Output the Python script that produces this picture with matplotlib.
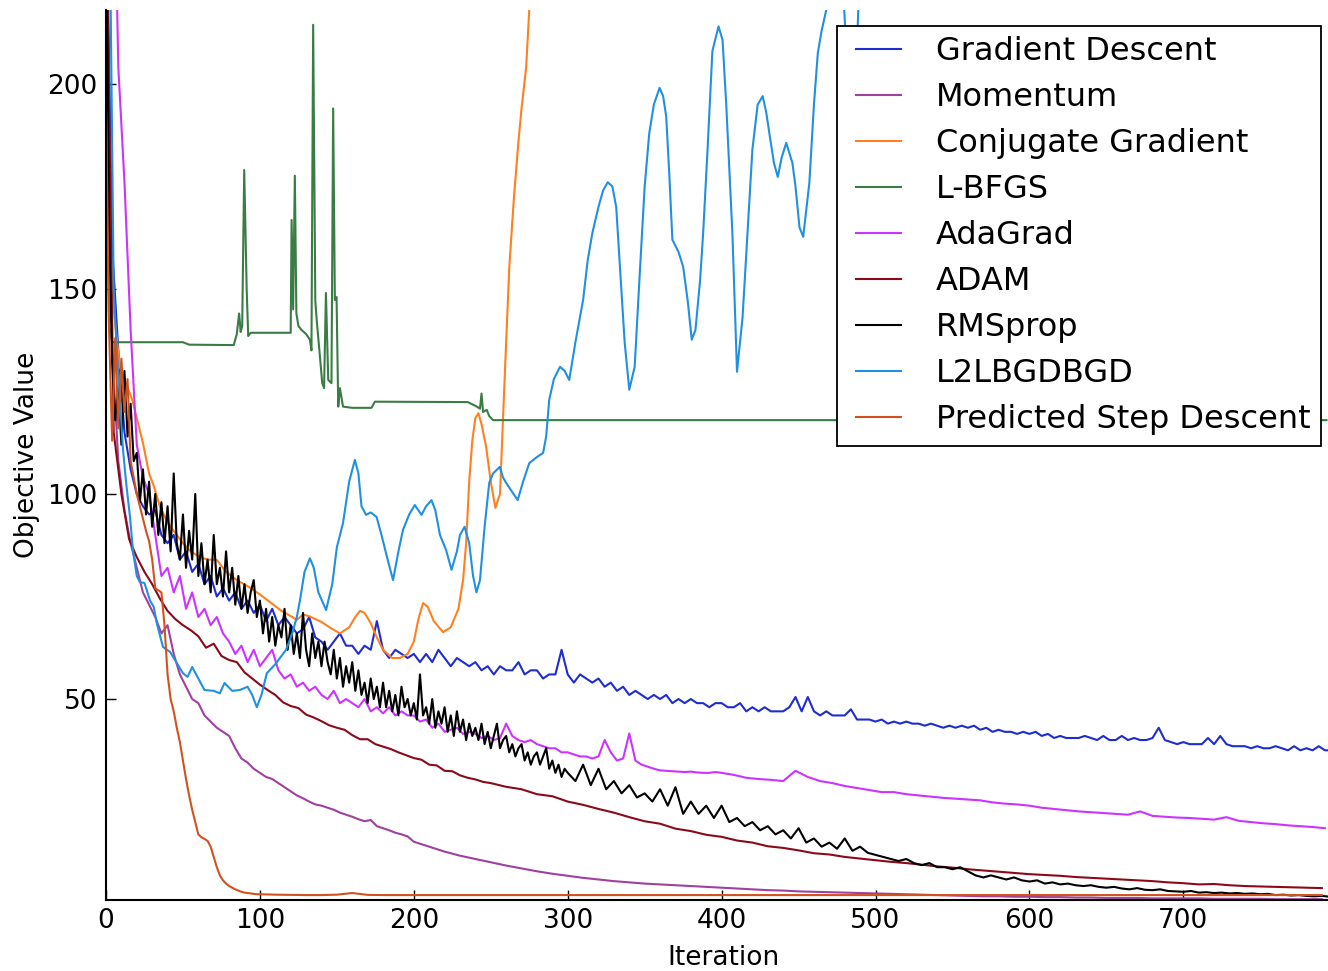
import numpy as np
import matplotlib
matplotlib.use("Agg")
import matplotlib.pyplot as plt

# ---------------- data ----------------
labels = ["Gradient Descent", "Momentum", "Conjugate Gradient", "L-BFGS",
          "AdaGrad", "ADAM", "RMSprop", "L2LBGDBGD", "Predicted Step Descent"]
colors = ["#1f2dd0", "#a040a0", "#ff8020", "#3a7d44", "#cc33ff",
          "#8b0a1a", "#000000", "#2090e0", "#d2521e"]

# Gradient Descent: every 4 iterations
gd_step = 4
gd_vals = [
    250, 160, 135, 115, 106, 100, 97, 95, 96, 90,
    88, 90, 84, 86, 81, 83, 78, 80, 75, 77,
    74, 76, 72, 74, 71, 73, 69, 72, 68, 70,
    68, 66, 67, 70, 65, 64, 62, 64, 66, 63,
    63, 61, 63, 62, 69, 62, 60, 62, 61, 60,
    61, 59, 61, 59, 62, 60, 58, 60, 59, 58,
    59, 57, 58, 56, 58, 57, 57, 59, 56, 57,
    57, 55, 56, 56, 62, 56, 54, 56, 55, 54,
    55, 53, 54, 52, 53, 51, 52, 51, 50, 51,
    50, 51, 49, 50, 49, 50, 49, 49, 48, 49,
    49, 48, 48, 49, 47, 48, 47, 48, 47, 47,
    47, 48, 50.5, 47, 50.5, 47, 46, 47, 46, 46,
    46, 47.5, 45, 45, 45, 44.5, 45, 44, 44.5, 44,
    44.5, 44, 44, 43.5, 44, 43.5, 43, 43.5, 43, 43.5,
    43, 43.5, 42.5, 43, 42, 42.5, 42, 42, 41.5, 42,
    41.5, 42, 41, 41.5, 40.5, 41, 40.5, 40.5, 40.5, 41,
    40.5, 40, 41, 40, 40, 41, 40, 40.5, 40, 40,
    40.5, 43, 40, 39.5, 39, 39.5, 39, 39, 39, 40.5,
    39, 41, 39, 38.5, 38.5, 38.5, 38, 38.5, 38, 38,
    38.5, 38, 37.5, 38.5, 37.5, 38, 37.5, 38.5, 37.5, 37.5,
]

# Momentum: every 4 iterations up to 196, then every 10
mom_step_a = 4
mom_vals_a = [
    250, 135, 108, 96, 88, 82, 76, 73, 70, 66,
    68, 61, 56, 53, 50, 49, 46, 44.5, 43, 42,
    41, 38, 35.5, 34.5, 33, 32, 31, 30.5, 29.5, 28.5,
    27.5, 26.5, 25.8, 25, 24.3, 24, 23.5, 23, 22.3, 21.8,
    21.3, 20.7, 20.2, 20.5, 19, 18.5, 18, 17.4, 17, 16.5,
]
mom_start_b = 200
mom_step_b = 10
mom_vals_b = [
    15.2, 14, 12.8, 11.8, 11, 10.2, 9.4, 8.7, 8, 7.4,
    6.9, 6.4, 6, 5.6, 5.3, 5, 4.8, 4.6, 4.4, 4.2,
    4.0, 3.8, 3.6, 3.4, 3.3, 3.1, 3.0, 2.9, 2.8, 2.7,
    2.6, 2.5, 2.4, 2.3, 2.2, 2.1, 2.0, 1.9, 1.9, 1.8,
    1.8, 1.7, 1.7, 1.6, 1.6, 1.5, 1.5, 1.5, 1.4, 1.4,
    1.4, 1.4, 1.3, 1.3, 1.3, 1.3, 1.2, 1.2, 1.2, 1.2,
]

# Conjugate Gradient
cg_iter = [0, 1, 2, 5, 9, 13, 17, 21, 24, 28, 31, 35, 40, 45, 50, 55, 61, 66,
           72, 78, 85, 93, 100, 107, 114, 121, 124, 128, 132, 140, 146, 152,
           158, 162, 165, 168, 172, 176, 180, 186, 191, 196, 200, 203, 206,
           209, 213, 219, 224, 229, 232, 234, 236, 238, 240, 242, 244, 247,
           250, 253, 256, 259, 262, 265, 268, 270, 273, 276, 280, 290]
cg_vals = [205, 188, 170, 145, 131, 127, 123, 117, 112.4, 105, 102, 97, 93,
           90.5, 88, 86, 84.6, 84, 83.9, 81, 79, 77.3, 75.5, 73.5, 71.5, 70,
           69.3, 70.6, 70.2, 68.8, 67.3, 66, 67.5, 70, 71.5, 71, 68.5, 65, 62,
           60, 60, 61, 64, 69.5, 73.4, 72.5, 69, 66.3, 67.5, 72, 79, 88, 103,
           113, 118.5, 119.7, 117, 111.5, 103, 96.6, 100, 128, 155, 172,
           186, 194, 204, 225, 245, 290]

# L-BFGS
lb_iter = [0, 2, 4, 50, 54, 83, 85, 86.5, 87.5, 88.5, 89.8, 91.4, 92.4, 94,
           120, 120.6, 121.6, 122.7, 123.7, 125, 127, 130, 132.5, 133.5,
           134.6, 136, 137, 139, 140.5, 141.7, 142.9, 144.4, 146.5, 147.6,
           148.7, 149.8, 150.9, 152, 154, 160, 172.5, 174.7, 235, 240, 243,
           244, 245, 247.4, 249, 251.5, 793]
lb_vals = [190, 141, 137, 137, 136.4, 136.3, 139, 144, 139.5, 141, 179, 150,
           138.5, 139.3, 139.3, 166.8, 145, 177.6, 144, 141, 140, 139, 137.6,
           135, 214.4, 147, 142, 133.5, 127, 125.8, 149, 127.8, 127, 194,
           147.3, 148, 121.3, 125.8, 121.3, 121, 121, 122.5, 122.4, 121.5,
           120.8, 124.5, 120, 120.5, 119, 118, 118]

# AdaGrad: every 4 iterations up to 396, then every 8
ada_step_a = 4
ada_vals_a = [
    400, 280, 204, 176, 140, 112, 104, 100, 90, 80,
    82, 76, 80, 72, 76, 70, 72, 68, 70, 66,
    64, 61, 63, 59, 62, 58, 60, 62, 57, 55,
    56, 53, 54, 52, 53, 51, 50, 52, 49, 50,
    49, 48, 50, 47, 48, 46.5, 48, 46, 47, 46,
    46, 44.5, 45, 43, 44, 42, 42.5, 43, 41.5, 42,
    41.5, 40.5, 41, 40, 40.5, 44, 41, 40, 39.5, 40,
    39, 38.5, 38, 38, 37, 37, 36.5, 36, 36, 35.5,
    36, 40, 37, 35, 35.5, 41.6, 35, 34, 33.5, 33,
    32.6, 32.5, 32.4, 32.3, 32.2, 32.3, 32.1, 32.0, 32.0, 32.2,
]
ada_start_b = 400
ada_step_b = 8
ada_vals_b = [
    32, 31.5, 30.8, 30.5, 30.3, 30, 32.5, 31, 30, 29.5,
    28.8, 28.3, 27.8, 27.3, 27.3, 26.8, 26.5, 26.2, 25.9, 25.7,
    25.5, 25.3, 24.8, 24.5, 24.3, 24.0, 23.5, 23.2, 22.9, 22.6,
    22.4, 22.2, 22, 21.8, 22.6, 21.5, 21.3, 21.1, 21, 20.8,
    20.6, 21.2, 20.3, 20.0, 19.7, 19.5, 19.2, 19.0, 18.8, 18.5,
]

# ADAM: every 5 iterations up to 245, then every 10
adam_step_a = 5
adam_vals_a = [
    250, 115, 100, 89, 84.6, 81, 78, 74.5, 71.5, 69.5,
    68, 66.8, 65.3, 62.5, 63.5, 60.5, 59.5, 59, 56.5, 55,
    53.5, 52.2, 51, 49.2, 48.3, 47.8, 46.2, 45.5, 44.6, 43.6,
    43, 42.5, 41.2, 40.2, 40.2, 39, 38.4, 37.8, 37, 36.3,
    35.6, 35.2, 34, 33.8, 32.5, 32.4, 31.4, 30.8, 30.4, 29.8,
]
adam_start_b = 250
adam_step_b = 10
adam_vals_b = [
    29.5, 28.6, 28, 26.8, 26.3, 25, 24.2, 23.2, 22.3, 21.2,
    20.2, 19.6, 18.4, 17.8, 16.9, 16.4, 15.5, 15.0, 14.1, 13.7,
    13.1, 12.4, 12.1, 11.5, 11.1, 10.7, 10.3, 10.0, 9.6, 9.2,
    8.9, 8.5, 8.2, 7.9, 7.6, 7.3, 7.1, 6.9, 6.6, 6.4,
    6.2, 6.0, 5.8, 5.6, 5.3, 5.1, 4.8, 4.9, 4.6, 4.4,
    4.3, 4.2, 4.1, 4.0, 3.9,
]

# RMSprop: every 2 iterations up to 298, then every 5
rms_step_a = 2
rms_vals_a = [
    250, 165, 132, 118, 126, 112, 130, 114, 122, 108,
    110, 98, 106, 95, 103, 92, 100, 90, 98, 88,
    97, 86, 105, 88, 84, 95, 82, 91, 84, 100,
    80, 88, 78, 84, 76, 90, 78, 82, 75, 86,
    76, 82, 73, 80, 72, 78, 71, 76, 79, 70,
    74, 66, 72, 64, 70, 63, 68, 65, 72, 62,
    68, 61, 66, 60, 71, 62, 58, 66, 60, 64,
    58, 64, 59, 56, 62, 55, 60, 53, 58, 54,
    59, 52, 57, 51, 54, 49, 55, 50, 53, 48,
    54, 48, 52, 47, 51, 46, 53, 48, 50, 46,
    49, 45, 56, 46, 48, 44, 50, 43, 47, 44,
    48, 42, 46, 41, 47, 42, 45, 40, 44, 41,
    43, 40, 44, 39, 42, 38, 41, 44, 38, 40,
    41, 37, 39, 36, 38, 39, 35, 37, 34, 36,
    37, 34, 36, 38, 33, 35, 32, 34, 31, 33,
]
rms_start_b = 300
rms_step_b = 5
rms_vals_b = [
    32, 30, 34, 29, 33, 28, 30, 27, 29, 26,
    27, 25, 28, 24, 28.5, 22, 25, 22, 24, 21,
    24, 20, 21, 19, 20, 18, 19, 17, 18, 16,
    18.5, 15, 16, 14, 15, 13.5, 16, 13, 14, 12.5,
    12, 11.5, 11, 10.5, 11, 10, 9.5, 10, 9, 9,
    8.5, 9, 8, 7, 6.5, 7, 6.5, 6, 6.5, 5.8,
    5.5, 5.8, 5, 5.3, 4.8, 5, 4.6, 4.4, 4.6, 4.2,
    4, 4.2, 3.8, 3.6, 3.9, 3.5, 3.4, 3.6, 3.2, 3.1,
    3, 3.2, 2.8, 2.9, 2.7, 2.8, 2.6, 2.7, 2.5, 2.6,
    2.4, 2.5, 2.2, 2.3, 2.1, 2.2, 2.0, 1.9, 2.0, 1.8,
]

# L2LBGDBGD
l2l_iter = [0, 3, 4, 5, 7, 9, 11, 13, 15.6, 17.5, 20, 22, 25, 28.6, 31, 33,
            37, 41.6, 46, 50, 53, 56, 60, 64, 70, 74, 77, 82, 87, 92, 95, 98,
            101, 104.5, 110, 117, 121, 124, 126, 129, 132.5, 135, 138, 143,
            147, 150, 154, 158, 161.7, 164, 166, 169, 172, 175.8, 179, 183,
            186.5, 190, 193, 197, 200.6, 203, 205, 208, 211.5, 214, 217, 221,
            224.5, 228, 230, 233, 236, 238.5, 240.7, 243, 246, 249, 251.5,
            255.8, 258, 260, 263, 267.5, 271, 275, 280, 284, 286, 288, 291,
            295, 298, 301, 305, 310, 313, 316, 320, 323, 326, 329, 331.5, 334,
            337, 340, 343.5, 347, 350, 353, 356, 359.7, 362, 364, 366, 368,
            372, 375, 378, 380.6, 383, 386, 388, 391, 394, 398, 400.6, 403,
            407, 410, 413.6, 417, 420, 423.4, 426.7, 429, 431, 434, 436.5, 439,
            442, 446, 448, 450.6, 453, 457, 460, 462.5, 465, 468, 472, 476,
            478, 481.5, 484, 486, 488.5, 491, 500, 793]
l2l_vals = [300, 220, 185, 150, 135, 123, 111, 103, 94.4, 86.3, 80, 78.5,
            78.3, 74, 72.5, 68.5, 62.7, 61.5, 58.8, 56.3, 55.4, 57.8, 55,
            52.2, 52, 51.4, 53.9, 52, 52.2, 53, 51, 48, 51, 56.3, 58.5, 62,
            66, 70, 74, 81, 84.3, 82, 76, 71.7, 78, 87, 92.9, 103, 108.3, 105,
            97, 94.9, 95.5, 94.4, 90, 84, 79, 86, 91.3, 95, 97.3, 96, 94.9,
            97, 98.5, 96, 90, 86.3, 81.5, 86, 90, 92, 88, 80, 76, 79, 92,
            102.7, 105, 106.6, 104, 102.7, 101, 98.5, 103, 107.5, 109, 110,
            114, 123, 128, 131, 130, 127.8, 137, 147.3, 157, 163.6, 170, 174,
            176, 175, 170, 155, 137, 125.4, 131, 155, 175, 188, 195, 199, 197,
            192, 178, 162, 159, 155.4, 147, 137.6, 140, 152, 163.6, 185, 208,
            214, 210.7, 195, 163.6, 129.8, 143, 165, 184, 194.9, 197, 193, 188,
            180.7, 177.3, 182, 185.6, 180.7, 175, 165, 162.7, 175.8, 195,
            207.5, 213, 218, 235, 240, 230, 205, 175, 190, 215, 240, 260, 260]

# Predicted Step Descent: every 2 iterations up to 98, then every 10
psd_step_a = 2
psd_vals_a = [
    195, 140, 113, 138, 116, 133, 120, 128, 108, 104,
    100, 97, 94, 91, 88.5, 84, 77, 76.5, 76, 68,
    56, 50, 47, 43, 39.5, 35, 30.5, 26.5, 23, 20,
    17, 16.3, 15.9, 15.4, 14, 11.5, 9, 7, 5.8, 5,
    4.4, 4.0, 3.6, 3.3, 3.0, 2.8, 2.7, 2.6, 2.5, 2.4,
]
psd_start_b = 100
psd_step_b = 10
psd_vals_b = [
    2.4, 2.3, 2.25, 2.2, 2.2, 2.3, 2.7, 2.25, 2.2, 2.2,
    2.2, 2.2, 2.2, 2.2, 2.2, 2.2, 2.2, 2.2, 2.2, 2.2,
    2.2, 2.2, 2.2, 2.2, 2.2, 2.2, 2.2, 2.2, 2.2, 2.2,
    2.2, 2.2, 2.2, 2.2, 2.2, 2.2, 2.2, 2.2, 2.2, 2.2,
    2.2, 2.2, 2.2, 2.2, 2.2, 2.2, 2.2, 2.2, 2.2, 2.2,
    2.2, 2.2, 2.2, 2.2, 2.2, 2.2, 2.2, 2.2, 2.2, 2.2,
    2.2, 2.2, 2.2, 2.2, 2.2, 2.2, 2.2, 2.2, 2.2, 2.2,
]

x_ticks = [0, 100, 200, 300, 400, 500, 600, 700]
y_ticks = [50, 100, 150, 200]


def grid(n, step, start=0):
    return start + np.arange(n) * step


series = [
    (grid(len(gd_vals), gd_step), gd_vals),
    (np.concatenate([grid(len(mom_vals_a), mom_step_a),
                     grid(len(mom_vals_b), mom_step_b, mom_start_b)]),
     mom_vals_a + mom_vals_b),
    (np.array(cg_iter), cg_vals),
    (np.array(lb_iter), lb_vals),
    (np.concatenate([grid(len(ada_vals_a), ada_step_a),
                     grid(len(ada_vals_b), ada_step_b, ada_start_b)]),
     ada_vals_a + ada_vals_b),
    (np.concatenate([grid(len(adam_vals_a), adam_step_a),
                     grid(len(adam_vals_b), adam_step_b, adam_start_b)]),
     adam_vals_a + adam_vals_b),
    (np.concatenate([grid(len(rms_vals_a), rms_step_a),
                     grid(len(rms_vals_b), rms_step_b, rms_start_b)]),
     rms_vals_a + rms_vals_b),
    (np.array(l2l_iter), l2l_vals),
    (np.concatenate([grid(len(psd_vals_a), psd_step_a),
                     grid(len(psd_vals_b), psd_step_b, psd_start_b)]),
     psd_vals_a + psd_vals_b),
]

# ---------------- figure ----------------
W, H = 1328, 971
fig = plt.figure(figsize=(W / 100, H / 100), dpi=100)
ax = fig.add_axes([106 / W, 71 / H, 1222 / W, 890 / H])

for (xs, ys), lab, col in zip(series, labels, colors):
    ax.plot(xs, ys, color=col, lw=1.5, label=lab)

ax.set_xlim(0, 794)
ax.set_ylim(1.0, 218)
ax.set_xticks(x_ticks)
ax.set_yticks(y_ticks)

for side in ("top", "right"):
    ax.spines[side].set_visible(False)
for side in ("left", "bottom"):
    ax.spines[side].set_linewidth(1.5)

ax.tick_params(direction="in", length=7, width=1, labelsize=19, pad=6,
               top=False, right=False)

ax.set_xlabel("Iteration", fontsize=19)
ax.set_ylabel("Objective Value", fontsize=19)
ax.xaxis.set_label_coords(0.505, -0.05)
ax.yaxis.set_label_coords(-0.054, 0.5)

leg = ax.legend(loc="upper right", bbox_to_anchor=(0.9943, 0.982),
                borderaxespad=0, fontsize=23, fancybox=False, shadow=False,
                framealpha=1, edgecolor="black", borderpad=0.32,
                labelspacing=0.47, handlelength=2.0, handletextpad=0.8,
                numpoints=2)
leg.get_frame().set_linewidth(1.3)

fig.savefig("out.png", dpi=100)
